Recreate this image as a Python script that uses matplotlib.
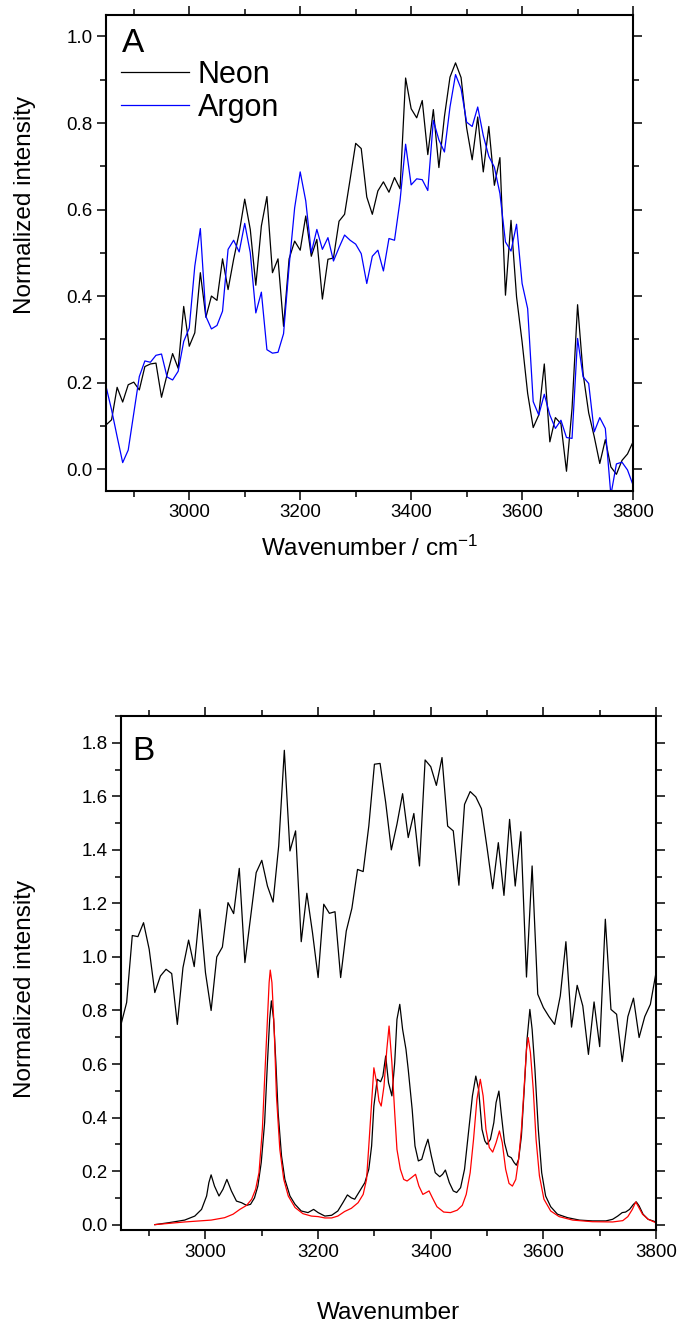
import numpy as np
import matplotlib
matplotlib.use('Agg')
import matplotlib.pyplot as plt
from matplotlib.ticker import MultipleLocator, FormatStrFormatter

plt.rcParams['font.family'] = ['Liberation Sans', 'DejaVu Sans']
plt.rcParams['mathtext.default'] = 'regular'

# ---- panel A: measured spectra, 10 cm-1 steps from 2850 to 3800 ----
wn_a = np.arange(2850, 3801, 10)

neon = [0.102, 0.114, 0.189, 0.155, 0.195, 0.201, 0.183, 0.237, 0.243, 0.245,
        0.166, 0.218, 0.267, 0.233, 0.376, 0.284, 0.315, 0.454, 0.351, 0.400,
        0.390, 0.486, 0.415, 0.485, 0.546, 0.624, 0.554, 0.425, 0.562, 0.630,
        0.454, 0.486, 0.330, 0.486, 0.527, 0.506, 0.585, 0.492, 0.531, 0.393,
        0.485, 0.488, 0.573, 0.589, 0.670, 0.753, 0.741, 0.629, 0.589, 0.643,
        0.664, 0.640, 0.674, 0.648, 0.904, 0.833, 0.812, 0.852, 0.727, 0.831,
        0.697, 0.815, 0.906, 0.939, 0.905, 0.789, 0.715, 0.814, 0.687, 0.792,
        0.656, 0.720, 0.402, 0.575, 0.398, 0.294, 0.175, 0.096, 0.125, 0.243,
        0.063, 0.119, 0.105, -0.005, 0.140, 0.380, 0.220, 0.130, 0.075, 0.013,
        0.068, 0.005, -0.012, 0.020, 0.035, 0.063]

argon = [0.191, 0.137, 0.075, 0.015, 0.044, 0.129, 0.214, 0.250, 0.247, 0.263,
         0.266, 0.213, 0.206, 0.226, 0.295, 0.326, 0.469, 0.556, 0.353, 0.324,
         0.332, 0.365, 0.508, 0.529, 0.502, 0.568, 0.500, 0.361, 0.409, 0.276,
         0.268, 0.270, 0.313, 0.469, 0.604, 0.687, 0.620, 0.500, 0.554, 0.508,
         0.535, 0.481, 0.512, 0.541, 0.529, 0.520, 0.498, 0.429, 0.492, 0.506,
         0.458, 0.533, 0.529, 0.621, 0.751, 0.657, 0.671, 0.669, 0.644, 0.806,
         0.761, 0.733, 0.837, 0.912, 0.879, 0.802, 0.792, 0.837, 0.771, 0.723,
         0.698, 0.637, 0.525, 0.504, 0.566, 0.429, 0.371, 0.156, 0.125, 0.173,
         0.125, 0.094, 0.113, 0.073, 0.071, 0.302, 0.213, 0.198, 0.086, 0.119,
         0.094, -0.060, 0.012, 0.016, -0.002, -0.037]

# ---- panel B: offset experimental trace + two calculated spectra ----
wn_b = np.arange(2850, 3801, 10)
expt_b = [0.748, 0.830, 1.080, 1.076, 1.128, 1.029, 0.867, 0.929, 0.954, 0.938,
          0.748, 0.960, 1.063, 0.964, 1.178, 0.941, 0.800, 1.000, 1.037, 1.203,
          1.162, 1.331, 0.979, 1.147, 1.315, 1.361, 1.265, 1.205, 1.415, 1.772,
          1.396, 1.471, 1.057, 1.238, 1.091, 0.923, 1.197, 1.163, 1.169, 0.923,
          1.097, 1.182, 1.327, 1.319, 1.489, 1.720, 1.723, 1.577, 1.400, 1.496,
          1.610, 1.446, 1.536, 1.340, 1.736, 1.711, 1.641, 1.745, 1.489, 1.471,
          1.268, 1.570, 1.618, 1.598, 1.554, 1.408, 1.255, 1.427, 1.230, 1.514,
          1.265, 1.468, 0.925, 1.340, 0.861, 0.811, 0.777, 0.748, 0.854, 1.057,
          0.738, 0.894, 0.817, 0.636, 0.832, 0.665, 1.141, 0.804, 0.786, 0.609,
          0.777, 0.846, 0.699, 0.777, 0.823, 0.941]

calc1_x = [2910, 2934, 2963, 2981, 2993, 3002, 3006, 3010, 3016, 3024,
           3031, 3038, 3046, 3055, 3064, 3073, 3080, 3087, 3093, 3099,
           3105, 3110, 3114, 3117, 3121, 3125, 3129, 3135, 3141, 3150,
           3159, 3170, 3182, 3192, 3200, 3212, 3224, 3235, 3244, 3252,
           3259, 3265, 3274, 3283, 3290, 3295, 3299, 3305, 3311, 3315,
           3320, 3325, 3331, 3336, 3340, 3345, 3350, 3356, 3360, 3367,
           3372, 3378, 3384, 3390, 3395, 3401, 3408, 3416, 3421, 3426,
           3433, 3440, 3446, 3453, 3460, 3467, 3474, 3480, 3485, 3491,
           3496, 3500, 3506, 3512, 3516, 3521, 3525, 3531, 3537, 3543,
           3548, 3552, 3556, 3561, 3566, 3571, 3576, 3580, 3585, 3591,
           3597, 3604, 3613, 3625, 3643, 3664, 3687, 3711, 3723, 3732,
           3740, 3746, 3753, 3760, 3765, 3770, 3777, 3786, 3800]
calc1_y = [0.000, 0.007, 0.017, 0.032, 0.057, 0.107, 0.157, 0.186, 0.144, 0.107,
           0.132, 0.169, 0.126, 0.088, 0.082, 0.072, 0.076, 0.100, 0.144, 0.232,
           0.381, 0.605, 0.767, 0.836, 0.767, 0.605, 0.418, 0.257, 0.169, 0.107,
           0.076, 0.051, 0.045, 0.057, 0.045, 0.032, 0.035, 0.051, 0.082, 0.111,
           0.100, 0.095, 0.126, 0.157, 0.207, 0.294, 0.443, 0.543, 0.534, 0.555,
           0.630, 0.530, 0.481, 0.605, 0.767, 0.823, 0.730, 0.655, 0.580, 0.431,
           0.294, 0.238, 0.244, 0.288, 0.319, 0.257, 0.194, 0.179, 0.188, 0.204,
           0.157, 0.126, 0.120, 0.138, 0.207, 0.344, 0.481, 0.555, 0.505, 0.356,
           0.313, 0.300, 0.319, 0.381, 0.456, 0.499, 0.418, 0.306, 0.257, 0.250,
           0.232, 0.222, 0.244, 0.331, 0.506, 0.692, 0.804, 0.730, 0.580, 0.356,
           0.194, 0.107, 0.067, 0.039, 0.026, 0.017, 0.014, 0.014, 0.020, 0.032,
           0.045, 0.047, 0.057, 0.076, 0.085, 0.070, 0.039, 0.020, 0.010]

calc2_x = [2910, 2963, 3010, 3034, 3049, 3061, 3073, 3082, 3089, 3095,
           3101, 3105, 3110, 3113, 3115, 3118, 3122, 3126, 3132, 3139,
           3147, 3159, 3173, 3188, 3200, 3212, 3224, 3235, 3247, 3259,
           3271, 3280, 3286, 3290, 3295, 3299, 3304, 3308, 3312, 3317,
           3322, 3326, 3331, 3336, 3340, 3346, 3352, 3358, 3366, 3373,
           3379, 3386, 3392, 3397, 3403, 3411, 3423, 3435, 3447, 3456,
           3463, 3470, 3476, 3482, 3488, 3493, 3498, 3504, 3510, 3516,
           3522, 3527, 3533, 3539, 3545, 3551, 3556, 3561, 3566, 3570,
           3573, 3577, 3582, 3587, 3593, 3601, 3613, 3628, 3652, 3687,
           3723, 3741, 3750, 3758, 3764, 3768, 3776, 3786, 3800]
calc2_y = [0.000, 0.010, 0.017, 0.026, 0.039, 0.057, 0.072, 0.095, 0.132, 0.194,
           0.356, 0.543, 0.767, 0.904, 0.951, 0.904, 0.730, 0.481, 0.281, 0.169,
           0.107, 0.064, 0.041, 0.032, 0.030, 0.025, 0.025, 0.032, 0.049, 0.061,
           0.082, 0.113, 0.169, 0.294, 0.456, 0.586, 0.530, 0.462, 0.443, 0.518,
           0.655, 0.742, 0.605, 0.418, 0.281, 0.207, 0.169, 0.163, 0.176, 0.188,
           0.144, 0.113, 0.120, 0.126, 0.100, 0.067, 0.047, 0.045, 0.054, 0.072,
           0.113, 0.194, 0.319, 0.468, 0.543, 0.481, 0.356, 0.288, 0.271, 0.306,
           0.350, 0.306, 0.207, 0.154, 0.144, 0.169, 0.244, 0.356, 0.518, 0.655,
           0.699, 0.643, 0.506, 0.319, 0.182, 0.095, 0.051, 0.030, 0.017, 0.011,
           0.010, 0.015, 0.030, 0.057, 0.085, 0.070, 0.039, 0.020, 0.007]


def style_axes(ax, ymin, ymax):
    ax.set_xlim(2850, 3800)
    ax.set_ylim(ymin, ymax)
    for sp in ax.spines.values():
        sp.set_linewidth(1.5)
    ax.xaxis.set_major_locator(MultipleLocator(200))
    ax.xaxis.set_minor_locator(MultipleLocator(100))
    ax.yaxis.set_major_locator(MultipleLocator(0.2))
    ax.yaxis.set_minor_locator(MultipleLocator(0.1))
    ax.xaxis.set_major_formatter(FormatStrFormatter('%d'))
    ax.yaxis.set_major_formatter(FormatStrFormatter('%.1f'))
    ax.tick_params(which='both', direction='out', top=True, right=True,
                   width=1.1, labelsize=13.5, pad=3)
    ax.tick_params(which='major', length=6.8)
    ax.tick_params(which='minor', length=4)


fig = plt.figure(figsize=(6.81, 13.27), dpi=100)
ax_a = fig.add_axes([0.1557, 0.6302, 0.7739, 0.3586])
ax_b = fig.add_axes([0.1777, 0.0731, 0.7856, 0.3873])

ax_a.plot(wn_a, neon, color='black', lw=0.9, label='Neon')
ax_a.plot(wn_a, argon, color='blue', lw=0.9, label='Argon')
style_axes(ax_a, -0.05, 1.05)
ax_a.legend(loc='upper left', bbox_to_anchor=(0.029, 0.905), frameon=False,
            fontsize=22, handlelength=2.2, handletextpad=0.3, labelspacing=0.1,
            borderpad=0, borderaxespad=0)
ax_a.text(0.030, 0.922, 'A', transform=ax_a.transAxes, fontsize=24, va='baseline')
ax_a.set_xlabel('Wavenumber / cm$^{-1}$', fontsize=17.5, labelpad=10)
ax_a.set_ylabel('Normalized intensity', fontsize=17.5)
ax_a.yaxis.set_label_coords(-0.132, 0.6)

ax_b.plot(wn_b, expt_b, color='black', lw=0.9)
ax_b.plot(calc1_x, calc1_y, color='black', lw=0.9)
ax_b.plot(calc2_x, calc2_y, color='red', lw=0.9)
style_axes(ax_b, -0.02, 1.9)
ax_b.text(0.021, 0.914, 'B', transform=ax_b.transAxes, fontsize=24, va='baseline')
ax_b.set_xlabel('Wavenumber', fontsize=17.5, labelpad=30)
ax_b.set_ylabel('Normalized intensity', fontsize=17.5)
ax_b.yaxis.set_label_coords(-0.158, 0.47)

fig.savefig('out.png', dpi=100)
